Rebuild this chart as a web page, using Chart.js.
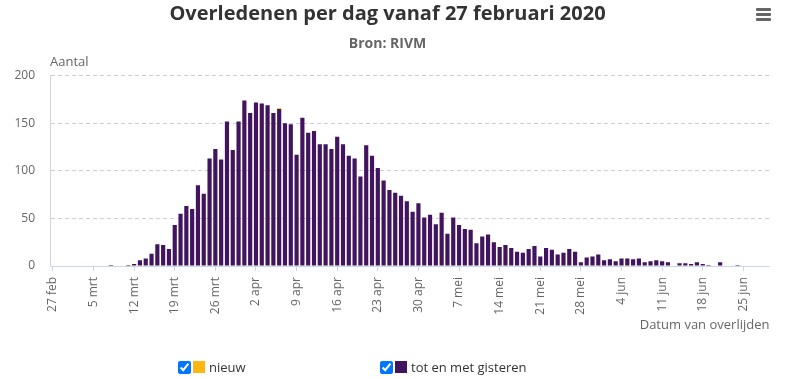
<!DOCTYPE html>
<html><head><meta charset="utf-8">
<script src="https://cdn.jsdelivr.net/npm/chart.js@4/dist/chart.umd.min.js"></script>
<style>
html,body{margin:0;padding:0;background:#fff;}
#wrap{position:relative;width:787px;height:379px;overflow:hidden;font-family:"Open Sans",sans-serif;}
#c{position:absolute;left:0;top:0;}
.menu{position:absolute;left:756px;width:15px;height:2.5px;background:#666;border-radius:1px;}
.leg{position:absolute;top:358px;display:flex;align-items:center;font-size:13px;color:#333;white-space:nowrap;}
.leg input{margin:0 2px 0 0;width:13px;height:13px;}
.sw{width:12px;height:12px;margin-right:4px;display:inline-block;}
</style></head>
<body><div id="wrap"><canvas id="c" width="787" height="379"></canvas>
<div class="menu" style="top:8px"></div>
<div class="menu" style="top:13px"></div>
<div class="menu" style="top:18px"></div>
<div class="leg" style="left:178px"><input type="checkbox" checked><span class="sw" style="background:#ffb612"></span><span>nieuw</span></div>
<div class="leg" style="left:380px"><input type="checkbox" checked><span class="sw" style="background:#42145f"></span><span>tot en met gisteren</span></div>
</div>
<script>
const categories = [
 "27 feb","28 feb","29 feb",
 "1 mrt","2 mrt","3 mrt","4 mrt","5 mrt","6 mrt","7 mrt","8 mrt","9 mrt","10 mrt","11 mrt","12 mrt","13 mrt","14 mrt","15 mrt","16 mrt","17 mrt","18 mrt","19 mrt","20 mrt","21 mrt","22 mrt","23 mrt","24 mrt","25 mrt","26 mrt","27 mrt","28 mrt","29 mrt","30 mrt","31 mrt",
 "1 apr","2 apr","3 apr","4 apr","5 apr","6 apr","7 apr","8 apr","9 apr","10 apr","11 apr","12 apr","13 apr","14 apr","15 apr","16 apr","17 apr","18 apr","19 apr","20 apr","21 apr","22 apr","23 apr","24 apr","25 apr","26 apr","27 apr","28 apr","29 apr","30 apr",
 "1 mei","2 mei","3 mei","4 mei","5 mei","6 mei","7 mei","8 mei","9 mei","10 mei","11 mei","12 mei","13 mei","14 mei","15 mei","16 mei","17 mei","18 mei","19 mei","20 mei","21 mei","22 mei","23 mei","24 mei","25 mei","26 mei","27 mei","28 mei","29 mei","30 mei","31 mei",
 "1 jun","2 jun","3 jun","4 jun","5 jun","6 jun","7 jun","8 jun","9 jun","10 jun","11 jun","12 jun","13 jun","14 jun","15 jun","16 jun","17 jun","18 jun","19 jun","20 jun","21 jun","22 jun","23 jun","24 jun","25 jun","26 jun","27 jun","28 jun","29 jun"
];
const totEnMetGisteren = [
 0,0,0,0,0,0,0,0,0,0,
 1,0,0,1,2,6,8,13,23,22,
 18,43,55,63,60,85,76,113,123,112,
 152,122,152,174,161,172,171,169,161,165,
 150,149,117,156,140,142,128,128,123,136,
 128,116,113,94,127,116,103,90,80,77,
 74,68,57,66,51,54,44,56,34,51,
 43,39,38,24,31,33,25,20,22,19,
 15,14,18,21,10,19,17,12,14,18,
 15,4,9,10,12,6,7,5,8,8,
 7,8,4,5,6,5,4,0,3,3,
 2,4,2,1,0,4,0,0,1,0,
 0,0,0,0
];
const nieuw = [
 0,0,0,0,0,0,0,0,0,0,
 0,0,0,0,0,0,0,0,0,0,
 0,0,0,0,0,0,0,0,0,0,
 0,0,0,0,0,0,0,0,0,1,
 0,0,0,0,0,0,0,0,0,0,
 0,0,0,0,0,0,0,0,0,0,
 0,0,0,0,0,0,0,0,0,0,
 0,0,0,0,0,0,0,0,0,0,
 0,0,0,0,0,0,0,0,0,0,
 0,0,0,0,0,0,0,0,0,0,
 0,0,0,0,0,0,0,0,0,0,
 0,0,0,0,0,0,0,0,0,0,
 0,0,0,0
];
const yTickValues = [0, 50, 100, 150, 200];
const labelEvery = 7;
const yAxisTitle = "Aantal";

const FONT = '"Open Sans", sans-serif';
Chart.defaults.font.family = FONT;

const yTitlePlugin = {
  id: 'yTitle',
  afterDraw(chart) {
    const ctx = chart.ctx;
    ctx.save();
    ctx.font = '13px ' + FONT;
    ctx.fillStyle = '#666';
    ctx.textAlign = 'left';
    ctx.textBaseline = 'middle';
    ctx.fillText(yAxisTitle, chart.chartArea.left, 62);
    ctx.restore();
  }
};

new Chart(document.getElementById('c'), {
  type: 'bar',
  data: {
    labels: categories,
    datasets: [
      { label: 'tot en met gisteren', data: totEnMetGisteren, backgroundColor: '#42145f', stack: 's', barPercentage: 0.72, categoryPercentage: 1 },
      { label: 'nieuw', data: nieuw, backgroundColor: '#ffb612', stack: 's', barPercentage: 0.72, categoryPercentage: 1 }
    ]
  },
  options: {
    responsive: false, animation: false, devicePixelRatio: 1,
    layout: { padding: { left: 0, right: 12, top: 0, bottom: 40 } },
    plugins: {
      legend: { display: false }, tooltip: { enabled: false },
      title: { display: true, text: 'Overledenen per dag vanaf 27 februari 2020', color: '#333',
        font: { size: 20, weight: 'bold', lineHeight: 1.2 }, padding: { top: 2, bottom: 8 } },
      subtitle: { display: true, text: 'Bron: RIVM', color: '#666',
        font: { size: 14, weight: 'bold', lineHeight: 1.2 }, padding: { top: 2, bottom: 23 } }
    },
    scales: {
      x: {
        stacked: true, offset: true,
        grid: { offset: false, drawOnChartArea: false, drawTicks: true, tickLength: 5,
          color: c => (c.index % labelEvery === 0 ? '#ccd6eb' : 'rgba(0,0,0,0)') },
        border: { color: '#ccd6eb' },
        ticks: { autoSkip: false, minRotation: 90, maxRotation: 90, padding: 6, color: '#666', font: { size: 12 },
          callback: (v, i) => (i % labelEvery === 0 ? categories[i] : '') },
        title: { display: true, text: 'Datum van overlijden', align: 'end', color: '#666', font: { size: 13 }, padding: { top: 0, bottom: 6 } },
        afterFit: s => { s.height = 73; }
      },
      y: {
        stacked: true, min: 0, max: 200,
        afterBuildTicks: s => { s.ticks = yTickValues.map(v => ({ value: v })); },
        ticks: { padding: 15, color: '#666', font: { size: 12 } },
        grid: { drawTicks: false, color: c => (c.tick && c.tick.value === 0 ? 'rgba(0,0,0,0)' : '#cfcfcf') },
        border: { display: true, color: '#ccd6eb', dash: [4, 3] },
        afterFit: s => { s.width = 50; }
      }
    }
  },
  plugins: [yTitlePlugin]
});
</script>
</body></html>
